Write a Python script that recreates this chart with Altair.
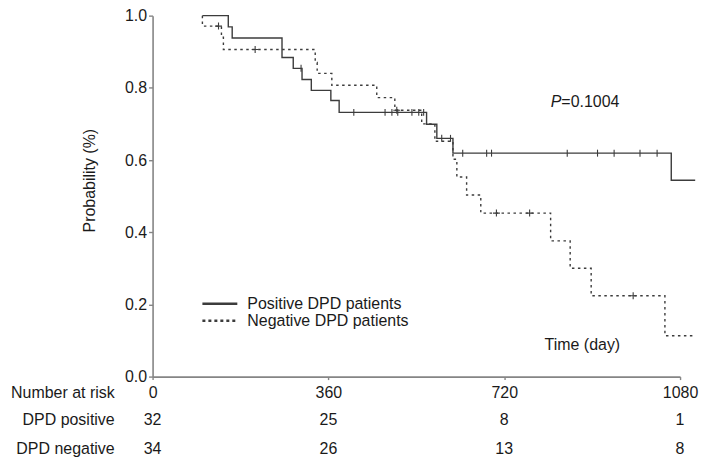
import altair as alt
import pandas as pd

# ---- data ----
pos_t = [102, 155, 163, 265, 288, 306, 325, 365, 382, 561, 582, 615, 1062, 1111]
pos_p = [1.0, 0.969, 0.938, 0.884, 0.854, 0.823, 0.793, 0.765, 0.732, 0.699, 0.660, 0.619, 0.544, 0.544]
pos_cens_t = [304, 412, 476, 490, 502, 531, 545, 555, 592, 610, 635, 684, 694, 849, 911, 945, 998, 1033]
pos_cens_p = [0.854, 0.732, 0.732, 0.732, 0.732, 0.732, 0.732, 0.732, 0.660, 0.660,
              0.619, 0.619, 0.619, 0.619, 0.619, 0.619, 0.619, 0.619]

neg_t = [102, 102, 141, 145, 333, 337, 367, 459, 496, 551, 578, 615, 623, 643, 672, 815, 855, 898, 1049, 1109]
neg_p = [1.0, 0.971, 0.94, 0.906, 0.870, 0.840, 0.807, 0.773, 0.738, 0.70, 0.652, 0.602, 0.553, 0.503,
         0.453, 0.376, 0.30, 0.224, 0.113, 0.113]
neg_cens_t = [135, 210, 500, 704, 772, 984]
neg_cens_p = [0.971, 0.906, 0.738, 0.453, 0.453, 0.224]

risk_times = [0, 360, 720, 1080]
risk_pos = [32, 25, 8, 1]
risk_neg = [34, 26, 13, 8]
row_labels = ["Number at risk", "DPD positive", "DPD negative"]
y_ticks = [0.0, 0.2, 0.4, 0.6, 0.8, 1.0]

FONT = "Liberation Sans"
LINE = "#3c3c3c"
TXT = "#1a1a1a"
AX = "#858585"

x_scale = alt.Scale(domain=[0, 1080], nice=False, zero=True)
y_scale = alt.Scale(domain=[0, 1], nice=False)

X = alt.X("t:Q", scale=x_scale, title=None,
          axis=alt.Axis(values=risk_times, format="d", title=None, grid=False))
Y = alt.Y("p:Q", scale=y_scale, title="Probability (%)",
          axis=alt.Axis(values=y_ticks, format=".1f", grid=False, title="Probability (%)"))

pos_df = pd.DataFrame({"t": pos_t, "p": pos_p, "i": list(range(len(pos_t)))})
neg_df = pd.DataFrame({"t": neg_t, "p": neg_p, "i": list(range(len(neg_t)))})
pos_c = pd.DataFrame({"t": pos_cens_t, "p": pos_cens_p})
neg_c = pd.DataFrame({"t": neg_cens_t, "p": neg_cens_p})

pos_line = alt.Chart(pos_df).mark_line(interpolate="step-after", color=LINE, strokeWidth=1.4).encode(
    x=X, y=Y, order="i:Q")
neg_line = alt.Chart(neg_df).mark_line(interpolate="step-after", color=LINE, strokeWidth=1.4,
                                       strokeDash=[2.5, 3.5]).encode(x=X, y=Y, order="i:Q")

pos_tick = alt.Chart(pos_c).mark_point(shape="M0,-1L0,1", filled=False, color=LINE,
                                       strokeWidth=1.1, size=49, opacity=1).encode(x=X, y=Y)
neg_tick = alt.Chart(neg_c).mark_point(shape="M-1,0L1,0M0,-1L0,1", filled=False, color=LINE,
                                       strokeWidth=1.1, size=49, opacity=1).encode(x=X, y=Y)

# legend drawn as marks
leg_df = pd.DataFrame({"t": [102, 102], "t2": [173.5, 173.5], "p": [0.2017, 0.1547],
                       "kind": ["solid", "dotted"]})
leg_solid = alt.Chart(leg_df[leg_df.kind == "solid"]).mark_rule(color=LINE, strokeWidth=2.4).encode(
    x=X, x2="t2:Q", y=Y)
leg_dot = alt.Chart(leg_df[leg_df.kind == "dotted"]).mark_rule(color=LINE, strokeWidth=2.4,
                                                               strokeDash=[3, 3]).encode(
    x=X, x2="t2:Q", y=Y)
leg_txt_df = pd.DataFrame({"t": [194, 194], "p": [0.188, 0.141],
                           "label": ["Positive DPD patients", "Negative DPD patients"]})
leg_txt = alt.Chart(leg_txt_df).mark_text(align="left", baseline="alphabetic", font=FONT,
                                          fontSize=16, color=TXT).encode(x=X, y=Y, text="label:N")

# annotations
ann_df = pd.DataFrame({"t": [880], "p": [0.0746], "label": ["Time (day)"]})
ann = alt.Chart(ann_df).mark_text(align="center", baseline="alphabetic", font=FONT,
                                  fontSize=16, color=TXT).encode(x=X, y=Y, text="label:N")
p1_df = pd.DataFrame({"t": [837], "p": [0.746], "label": ["P"]})
p1 = alt.Chart(p1_df).mark_text(align="right", baseline="alphabetic", font=FONT, fontSize=16,
                                fontStyle="italic", color=TXT).encode(x=X, y=Y, text="label:N")
p2_df = pd.DataFrame({"t": [837], "p": [0.746], "label": ["=0.1004"]})
p2 = alt.Chart(p2_df).mark_text(align="left", baseline="alphabetic", font=FONT, fontSize=16,
                                color=TXT).encode(x=X, y=Y, text="label:N")

# number at risk table
rp_df = pd.DataFrame({"t": risk_times, "n": [str(v) for v in risk_pos]})
rn_df = pd.DataFrame({"t": risk_times, "n": [str(v) for v in risk_neg]})
rp = alt.Chart(rp_df).mark_text(align="center", baseline="alphabetic", font=FONT, fontSize=16,
                                color=TXT).encode(x=X, y=alt.value(411), text="n:N")
rn = alt.Chart(rn_df).mark_text(align="center", baseline="alphabetic", font=FONT, fontSize=16,
                                color=TXT).encode(x=X, y=alt.value(440), text="n:N")
rl_df = pd.DataFrame({"label": row_labels, "yy": [383, 411, 440]})
rl = alt.Chart(rl_df).mark_text(align="right", baseline="alphabetic", font=FONT, fontSize=16,
                                color=TXT).encode(x=alt.value(-38), y=alt.Y("yy:Q", scale=None),
                                                  text="label:N")

chart = alt.layer(pos_line, neg_line, pos_tick, neg_tick, leg_solid, leg_dot, leg_txt,
                  ann, p1, p2, rp, rn, rl).properties(
    width=529, height=362, autosize="none",
    padding={"left": 145, "top": 7, "right": 19, "bottom": 86},
).configure_view(stroke=None).configure_axis(
    labelFont=FONT, labelFontSize=16, labelColor=TXT, titleFont=FONT, titleFontSize=16,
    titleColor=TXT, titleFontWeight="normal", domainColor=AX, tickColor=AX,
    domainWidth=1.6, tickWidth=1.4, grid=False,
).configure_axisX(
    tickSize=3, labelPadding=5, labelFlush=False,
).configure_axisY(
    tickSize=4, labelPadding=2, titleX=-55, titleY=165,
)

chart.save("out.html", embed_options={"renderer": "svg", "actions": False})
